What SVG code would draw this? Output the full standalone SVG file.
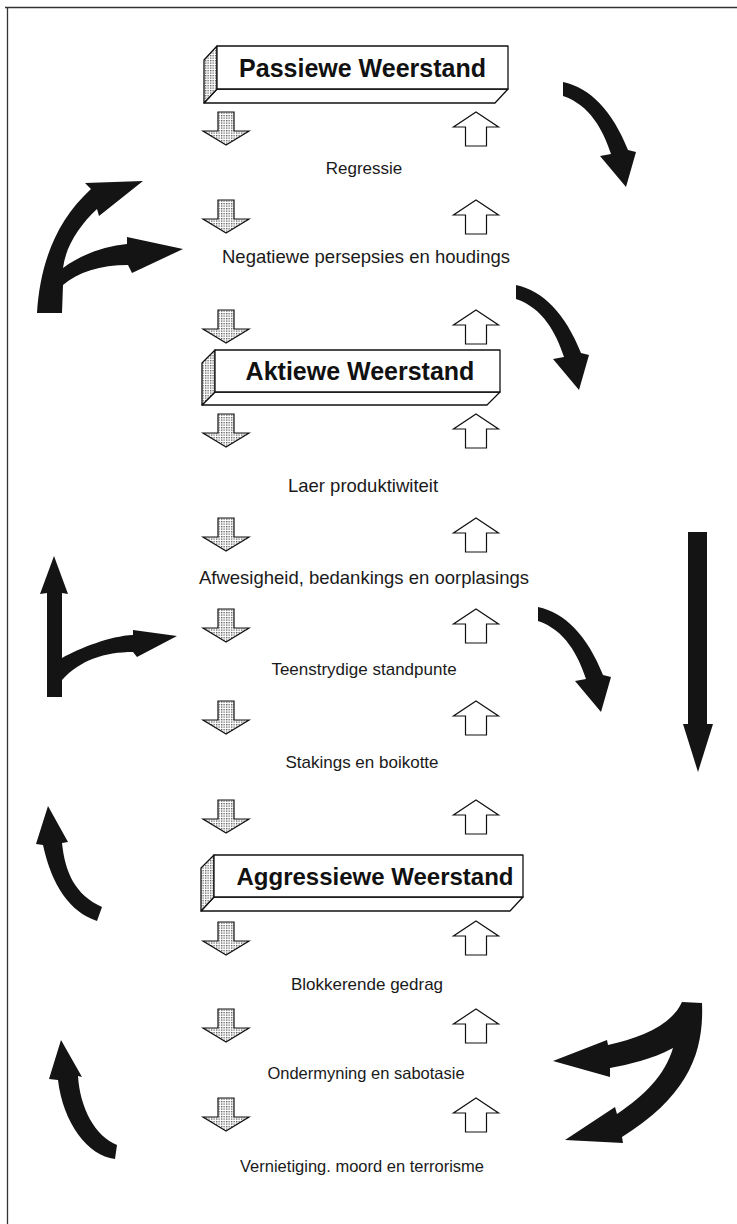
<svg xmlns="http://www.w3.org/2000/svg" width="737" height="1224" viewBox="0 0 737 1224">
  <style>
    .lbl { font-family: "Liberation Sans", Arial, sans-serif; font-size: 17px; fill: #1a1a1a; text-anchor: middle; }
    .lg { font-size: 18.5px; }
    .sm { font-size: 16.5px; }
    .ttl { font-family: "Liberation Sans", Arial, sans-serif; font-size: 25px; font-weight: bold; fill: #111; text-anchor: middle; }
    .face { fill: #fff; stroke: #111; stroke-width: 1.3; stroke-linejoin: round; }
    .end { fill: url(#dots); stroke: #111; stroke-width: 1.3; stroke-linejoin: round; }
    .down { fill: url(#dots); stroke: #111; stroke-width: 1.2; stroke-linejoin: miter; }
    .up { fill: #fff; stroke: #111; stroke-width: 1.2; stroke-linejoin: miter; }
    .big { fill: #141414; }
  </style>
  <defs>
    <pattern id="dots" width="2.5" height="2.5" patternUnits="userSpaceOnUse">
      <rect width="2.5" height="2.5" fill="#fff"/>
      <rect width="1.3" height="1.3" fill="#5a5a5a"/>
    </pattern>
    <!-- small stippled arrow pointing down, origin at tip -->
    <path id="dn" class="down" d="M0,0 L-23,-14 L-8,-14 L-8,-33 L8,-33 L8,-14 L23,-14 Z"/>
    <!-- small hollow arrow pointing up, origin at tip -->
    <path id="upa" class="up" d="M0,0 L22.5,15 L10.5,15 L10.5,34 L-10.5,34 L-10.5,15 L-22.5,15 Z"/>
    <!-- curved black arrow sweeping down to the right, origin at tail -->
    <path id="sweep" class="big" d="M0,0 C27,6 49,28 65,68 L73,70 L63,105 L37,74 L48,72 C40,48 27,23 0,14 Z"/>
  </defs>

  <rect width="737" height="1224" fill="#fff"/>

  <!-- page frame -->
  <g id="frame" fill="none" stroke="#333" stroke-width="1.3">
    <path d="M5,7.5 L737,7.5"/>
    <path d="M7.5,7 L7.5,1224"/>
  </g>

  <!-- stage headings drawn as beams -->
  <g id="box-passief">
    <polygon class="face" points="217,89 508,89 495,103 204,103"/>
    <polygon class="end" points="217,46 204,60 204,103 217,89"/>
    <rect class="face" x="217" y="46" width="291" height="43"/>
    <text class="ttl" x="362.5" y="77">Passiewe Weerstand</text>
  </g>
  <g id="box-aktief">
    <polygon class="face" points="215,392 500,392 487,405 202,405"/>
    <polygon class="end" points="215,350 202,363 202,405 215,392"/>
    <rect class="face" x="215" y="350" width="285" height="42"/>
    <text class="ttl" x="360" y="380">Aktiewe Weerstand</text>
  </g>
  <g id="box-aggressief">
    <polygon class="face" points="214,897 523,897 510,911 201,911"/>
    <polygon class="end" points="214,855 201,868 201,911 214,897"/>
    <rect class="face" x="214" y="855" width="309" height="42"/>
    <text class="ttl" x="375" y="885" style="font-size:24px">Aggressiewe Weerstand</text>
  </g>

  <!-- stage descriptions -->
  <g id="labels">
    <text id="t-regressie" class="lbl" x="364" y="174">Regressie</text>
    <text id="t-negatief" class="lbl lg" x="366" y="263">Negatiewe persepsies en houdings</text>
    <text id="t-laer" class="lbl lg" x="363" y="492">Laer produktiwiteit</text>
    <text id="t-afwesig" class="lbl lg" x="364" y="584">Afwesigheid, bedankings en oorplasings</text>
    <text id="t-teenstrydig" class="lbl" x="364" y="675">Teenstrydige standpunte</text>
    <text id="t-stakings" class="lbl" x="362" y="768">Stakings en boikotte</text>
    <text id="t-blokkerend" class="lbl" x="367" y="990">Blokkerende gedrag</text>
    <text id="t-ondermyning" class="lbl sm" x="366" y="1079">Ondermyning en sabotasie</text>
    <text id="t-vernietiging" class="lbl sm" x="362" y="1172">Vernietiging. moord en terrorisme</text>
  </g>

  <g id="connectors">
    <!-- escalation (down) and de-escalation (up) steps -->
    <g id="steps">
      <use href="#dn" x="226" y="145"/><use href="#upa" x="476" y="112"/>
      <use href="#dn" x="226" y="233"/><use href="#upa" x="476" y="200"/>
      <use href="#dn" x="226" y="343"/><use href="#upa" x="476" y="310"/>
      <use href="#dn" x="226" y="447"/><use href="#upa" x="476" y="414"/>
      <use href="#dn" x="226" y="551"/><use href="#upa" x="476" y="518"/>
      <use href="#dn" x="226" y="642"/><use href="#upa" x="476" y="609"/>
      <use href="#dn" x="226" y="734"/><use href="#upa" x="476" y="701"/>
      <use href="#dn" x="226" y="833"/><use href="#upa" x="476" y="800"/>
      <use href="#dn" x="226" y="955"/><use href="#upa" x="476" y="921"/>
      <use href="#dn" x="226" y="1042"/><use href="#upa" x="476" y="1009"/>
      <use href="#dn" x="226" y="1131"/><use href="#upa" x="476" y="1098"/>
    </g>

    <!-- heavy feedback arrows -->
    <path id="fork-top-left" class="big" d="M37,313 C40,265 55,222 91,189 L85,183 L143,181 L99,216 L97,209 C80,225 66,245 63,268 C80,255 105,246 127,244 L127,237 L183,249 L132,273 L128,265 C100,265 78,272 63,285 L62,313 Z"/>
    <use id="sweep-1" href="#sweep" x="563" y="82"/>
    <use id="sweep-2" href="#sweep" x="516" y="285"/>
    <use id="sweep-3" href="#sweep" x="538" y="607"/>
    <path id="drop-right" class="big" d="M688,532 L707,532 L707,724 L713,724 L698,772 L683,724 L688,724 Z"/>
    <path id="fork-mid-left" class="big" d="M54,556 L68,594 L62,593 L62,658 C80,648 110,636 133,635 L133,630 L177,636 L137,657 L133,652 C105,652 80,660 62,680 L62,697 L47,697 L47,593 L40,594 Z"/>
    <path id="rise-left-1" class="big" d="M48,806 L68,842 L62,843 C65,872 75,895 102,907 L97,921 C70,912 52,886 43,845 L36,844 Z"/>
    <path id="rise-left-2" class="big" d="M61,1040 L82,1077 L78,1076 C80,1108 95,1136 117,1145 L115,1159 C88,1156 63,1123 58,1080 L49,1079 Z"/>
    <path id="fork-bottom-right" class="big" d="M682,1002 L702,1003 C704,1050 690,1095 622,1137 L623,1143 L565,1140 L615,1107 L617,1114 C645,1095 665,1075 673,1048 C650,1060 630,1064 610,1068 L610,1077 L553,1061 L607,1040 L608,1045 C640,1038 672,1025 682,1002 Z"/>
  </g>
</svg>
